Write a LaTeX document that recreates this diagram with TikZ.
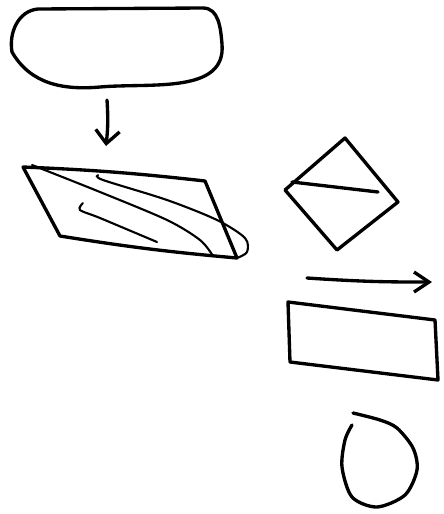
\documentclass[tikz,border=0pt]{standalone}
\usetikzlibrary{arrows.meta}
\begin{document}
\begin{tikzpicture}[x=0.02cm, y=-0.02cm, >={Straight Barb[length=2.6mm,width=4.8mm]},
    pen/.style={line width=1.9pt, line cap=round, line join=round},
    scrib/.style={line width=1.2pt, line cap=round}]
    \useasboundingbox (0,0) rectangle (443,514);

    % terminal
    \coordinate (S1) at (38,9);
    \coordinate (S2) at (203,8);
    \coordinate (S3) at (222,44);
    \coordinate (S4) at (100,87);
    \coordinate (S5) at (12,52);
    \draw[pen] (S1) -- (S2) to[out=0, in=95] (S3) to[out=-85, in=5] (S4)
        to[out=185, in=-60] (S5) to[out=100, in=185] (S1);

    \coordinate (T) at (107,100);
    \coordinate (D) at (106,146);
    \draw[pen, ->] (T) to[bend left=5] (D);

    % data box
    \coordinate (P1) at (23,167);
    \coordinate (P2) at (205,181);
    \coordinate (P3) at (237,258);
    \coordinate (P4) at (60,236);
    \draw[pen] (P1) to[bend left=2] (P2) -- (P3) to[bend left=2] (P4) -- cycle;
    \draw[scrib] plot[smooth] coordinates {(32,165) (100,192) (167,220) (200,240) (213,256)};
    \draw[scrib] plot[smooth] coordinates {(98,175) (103,180) (167,200) (217,220) (245,238) (247,252) (237,258)};
    \draw[scrib] plot[smooth] coordinates {(83,203) (80,210) (100,218) (157,242)};

    % decision
    \coordinate (Q1) at (345,138);
    \coordinate (Q2) at (398,202);
    \coordinate (Q3) at (337,250);
    \coordinate (Q4) at (285,190);
    \draw[pen] (Q1) -- (Q2) -- (Q3) -- (Q4) -- cycle;
    \draw[pen] (292,182) -- (378,192);

    \coordinate (L) at (307,278);
    \coordinate (R) at (432,282);
    \draw[pen, ->, >={Straight Barb[length=3mm,width=4mm]}] (L) to[bend right=2] (R);

    % process
    \coordinate (R1) at (288,302);
    \coordinate (R2) at (435,320);
    \coordinate (R3) at (438,380);
    \coordinate (R4) at (290,362);
    \draw[pen] (R1) -- (R2) -- (R3) -- (R4) -- cycle;

    % connector
    \draw[pen] plot[smooth] coordinates {(353,413) (380,420) (397,428) (413,448) (417,470) (405,495) (377,507) (352,497) (342,467) (345,440) (352,425)};
\end{tikzpicture}
\end{document}
